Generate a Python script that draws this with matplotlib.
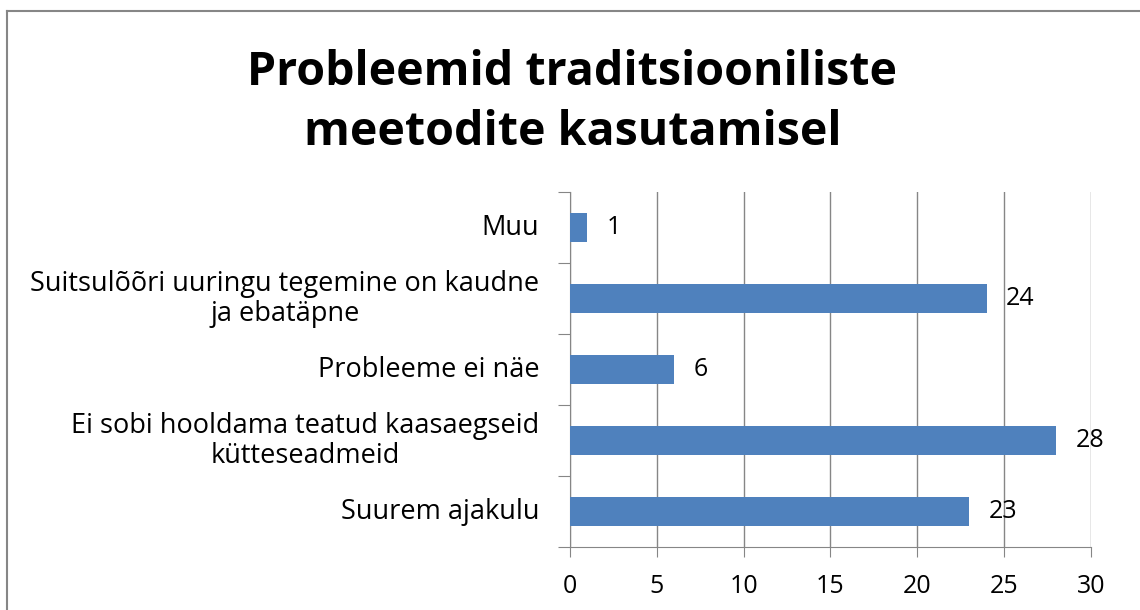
import numpy as np
import matplotlib
matplotlib.use('Agg')
import matplotlib.pyplot as plt
from matplotlib.lines import Line2D

# Data (bottom to top, as drawn)
categories = [
    'Suurem ajakulu',
    'Ei sobi hooldama teatud kaasaegseid\nkütteseadmeid',
    'Probleeme ei näe',
    'Suitsulõõri uuringu tegemine on kaudne\nja ebatäpne',
    'Muu',
]
values = [23, 28, 6, 24, 1]
x_ticks = [0, 5, 10, 15, 20, 25, 30]
title = 'Probleemid traditsiooniliste\nmeetodite kasutamisel'

bar_color = '#4F81BD'
grid_color = '#868686'

plt.rcParams['font.family'] = ['Open Sans', 'DejaVu Sans']

fig = plt.figure(figsize=(11.4, 6.1), dpi=100)
ax = fig.add_axes([0.5, 0.103, 0.457, 0.582])

y = np.arange(len(categories))
ax.barh(y, values, height=0.4, color=bar_color, zorder=3)

# data labels
for yi, v in zip(y, values):
    ax.annotate(str(v), (v, yi), xytext=(14, 0), textcoords='offset points',
                va='center', ha='left', fontsize=18, color='black')

ax.set_xlim(0, 30)
ax.set_ylim(-0.5, len(categories) - 0.5)
ax.set_xticks(x_ticks)
ax.set_xticklabels([str(t) for t in x_ticks], fontsize=18)
ax.xaxis.grid(True, color=grid_color, linewidth=1.0, zorder=0)

# category labels drawn as text so that wrapped lines stay centred
ax.set_yticks(y)
ax.set_yticklabels([])
for yi, cat in zip(y, categories):
    ax.annotate(cat, (0, yi), xycoords=ax.get_yaxis_transform(),
                xytext=(-22, 0), textcoords='offset points',
                ha='right', va='center', multialignment='center',
                fontsize=19.5, linespacing=1.1)
ax.set_yticks(np.arange(-0.5, len(categories), 1.0), minor=True)
ax.tick_params(axis='y', which='major', length=0)
ax.tick_params(axis='y', which='minor', length=9, width=0.8, color=grid_color,
               direction='out')
ax.tick_params(axis='x', length=7, width=0.8, color=grid_color,
               direction='out', pad=12)

for side in ['top', 'right']:
    ax.spines[side].set_visible(False)
for side in ['left', 'bottom']:
    ax.spines[side].set_color(grid_color)
    ax.spines[side].set_linewidth(0.8)

fig.text(0.502, 0.92, title, ha='center', va='top', fontsize=33.5,
         fontweight='bold', linespacing=1.38)

# chart frame (top and left edges visible)
fx0, fy0 = 7 / 1140, 1 - 11 / 610
fig.add_artist(Line2D([fx0, fx0], [0, fy0], transform=fig.transFigure,
                      color=grid_color, linewidth=1.5))
fig.add_artist(Line2D([fx0, 1], [fy0, fy0], transform=fig.transFigure,
                      color=grid_color, linewidth=1.5))

fig.savefig('out.png', dpi=100, facecolor='white')
